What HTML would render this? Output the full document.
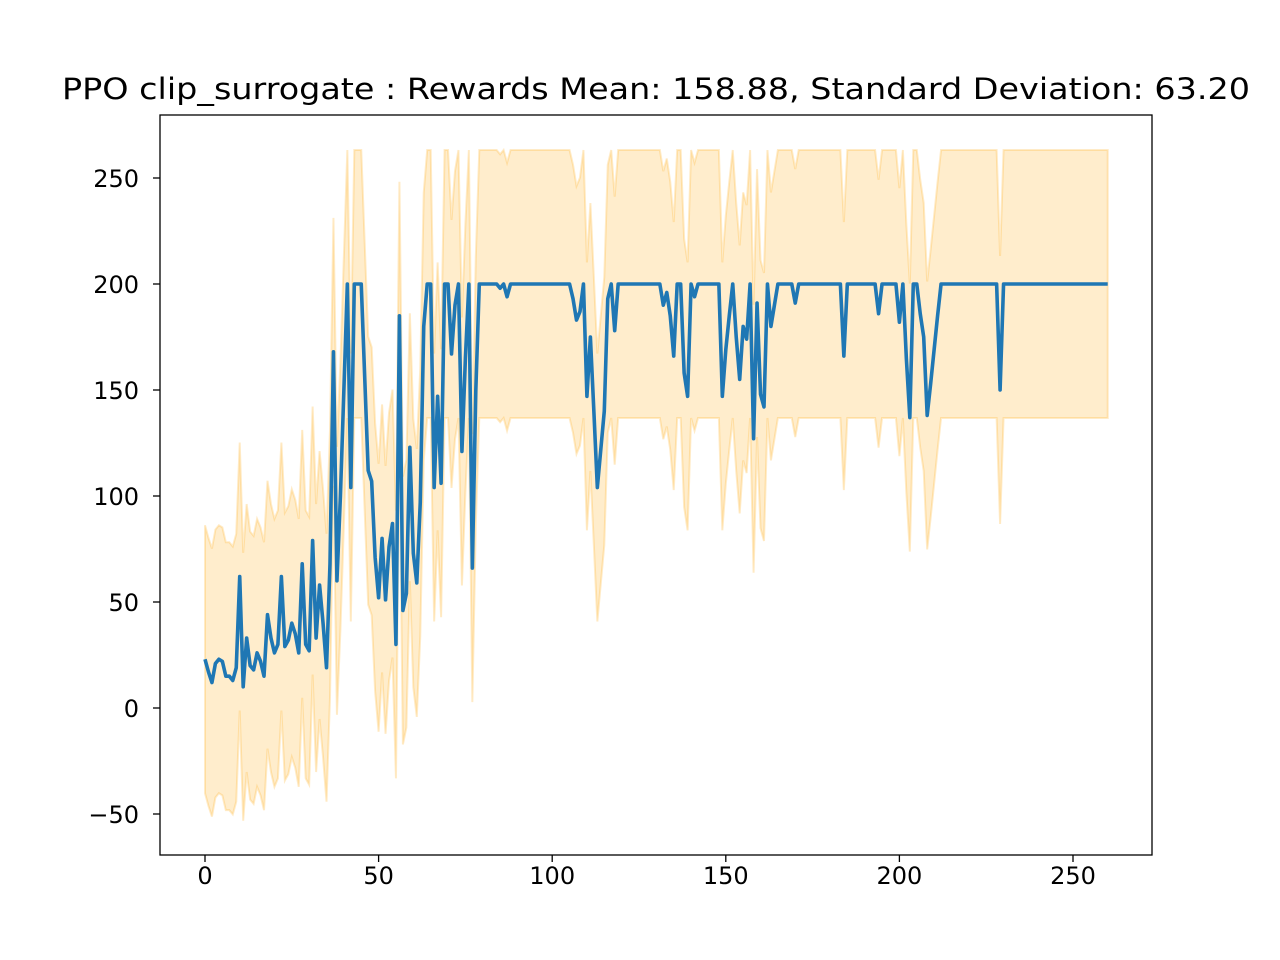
<!DOCTYPE html>
<html><head><meta charset="utf-8"><style>
html,body{margin:0;padding:0;background:#fff;}
svg{display:block;font-family:"DejaVu Sans","Liberation Sans",sans-serif;}
</style></head><body>
<svg id="chart" width="1280" height="960">
<rect width="1280" height="960" fill="#fff"/>
<text x="656" y="99" font-size="29" text-anchor="middle" fill="#000" textLength="1188" lengthAdjust="spacingAndGlyphs">PPO clip_surrogate : Rewards Mean: 158.88, Standard Deviation: 63.20</text>
<g id="band"></g>
<g id="line"></g>
<rect x="160" y="115" width="992" height="740" fill="none" stroke="#000" stroke-width="1.3"/>
<g id="xaxis"></g>
<g id="yaxis"></g>
</svg>
<script>
const rewards = [23,17,12,21,23,22,15,15,13,19,
62,10,33,20,18,26,22,15,44,33,
26,30,62,29,32,40,35,26,68,30,
27,79,33,58,40,19,68,168,60,100,
150,200,104,200,200,200,156,112,107,71,
52,80,51,76,87,30,185,46,54,123,
73,59,97,180,200,200,104,147,106,200,
200,167,190,200,121,165,200,66,150,200,
200,200,200,200,200,198,200,194,200,200,
200,200,200,200,200,200,200,200,200,200,
200,200,200,200,200,200,193,183,187,200,
147,175,140,104,122,140,193,200,178,200,
200,200,200,200,200,200,200,200,200,200,
200,200,190,196,185,166,200,200,158,147,
200,194,200,200,200,200,200,200,200,147,
169,185,200,175,155,180,174,200,127,191,
148,142,200,180,190,200,200,200,200,200,
191,200,200,200,200,200,200,200,200,200,
200,200,200,200,166,200,200,200,200,200,
200,200,200,200,186,200,200,200,200,200,
182,200,165,137,200,200,186,175,138,153,
169,185,200,200,200,200,200,200,200,200,
200,200,200,200,200,200,200,200,200,150,
200,200,200,200,200,200,200,200,200,200,
200,200,200,200,200,200,200,200,200,200,
200,200,200,200,200,200,200,200,200,200,200];
const stdDev = [63.2];
const xTicks = [0,50,100,150,200,250];
const yTicks = [-50,0,50,100,150,200,250];

const NS = "http://www.w3.org/2000/svg";
function xs(i){ return 205 + i*3.472; }
function ys(v){ return 708 - v*2.12; }
const sd = stdDev[0];

let up = rewards.map((v,i)=>xs(i).toFixed(2)+","+ys(v+sd).toFixed(2));
let lo = rewards.map((v,i)=>xs(i).toFixed(2)+","+ys(v-sd).toFixed(2)).reverse();
const band = document.createElementNS(NS,"polygon");


band.setAttribute("points", up.concat(lo).join(" "));
band.setAttribute("fill","rgba(255,165,0,0.2)");
band.setAttribute("stroke","rgba(255,165,0,0.22)");
band.setAttribute("stroke-width","2");
document.getElementById("band").appendChild(band);

const line = document.createElementNS(NS,"polyline");


line.setAttribute("points", rewards.map((v,i)=>xs(i).toFixed(2)+","+ys(v).toFixed(2)).join(" "));
line.setAttribute("fill","none");
line.setAttribute("stroke","#1f77b4");
line.setAttribute("stroke-width","3.6");
line.setAttribute("stroke-linejoin","round");
document.getElementById("line").appendChild(line);

const xa = document.getElementById("xaxis");
xTicks.forEach(t=>{
  const x = xs(t);
  const tk = document.createElementNS(NS,"line");
  
  
  tk.setAttribute("x1",x);tk.setAttribute("x2",x);tk.setAttribute("y1",855);tk.setAttribute("y2",862);
  tk.setAttribute("stroke","#000");tk.setAttribute("stroke-width","1.3");
  xa.appendChild(tk);
  const tx = document.createElementNS(NS,"text");
  
  
  tx.setAttribute("x",x);tx.setAttribute("y",884);tx.setAttribute("font-size","24");
  tx.setAttribute("text-anchor","middle");
  tx.textContent = String(t);
  xa.appendChild(tx);
});
const ya = document.getElementById("yaxis");
yTicks.forEach(t=>{
  const y = ys(t);
  const tk = document.createElementNS(NS,"line");
  
  
  tk.setAttribute("x1",153);tk.setAttribute("x2",160);tk.setAttribute("y1",y);tk.setAttribute("y2",y);
  tk.setAttribute("stroke","#000");tk.setAttribute("stroke-width","1.3");
  ya.appendChild(tk);
  const tx = document.createElementNS(NS,"text");
  
  
  tx.setAttribute("x",139);tx.setAttribute("y",y+9);tx.setAttribute("font-size","24");
  tx.setAttribute("text-anchor","end");
  tx.textContent = t<0 ? "\u2212"+Math.abs(t) : String(t);
  ya.appendChild(tx);
});
</script>
</body></html>
